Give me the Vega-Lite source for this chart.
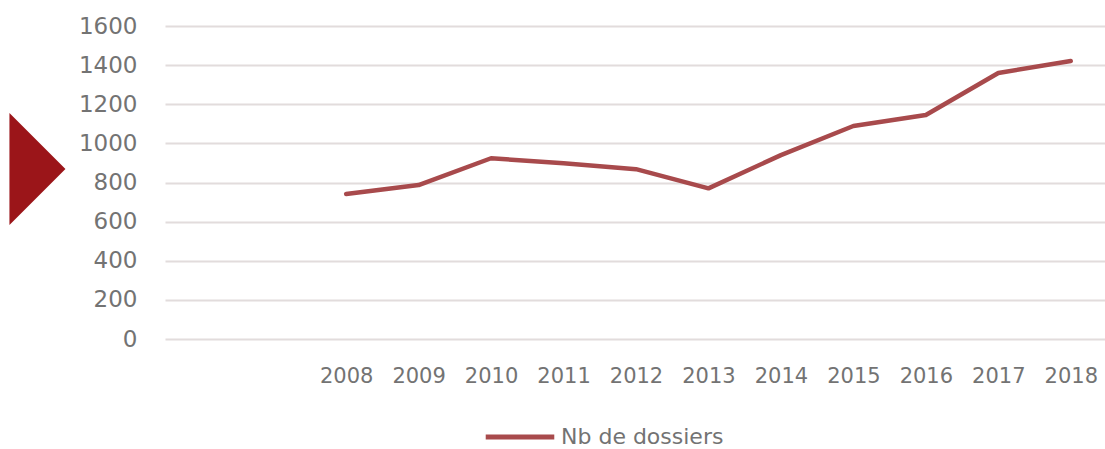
{
  "$schema": "https://vega.github.io/schema/vega-lite/v6.json",
  "width": 942,
  "height": 313,
  "autosize": {"type": "none"},
  "padding": {"left": 165, "top": 26, "right": 0, "bottom": 110},
  "background": "white",
  "config": {
    "view": {"stroke": null},
    "font": "DejaVu Sans"
  },
  "datasets": {
    "series": [
      {"year": 2008, "value": 741, "serie": "Nb de dossiers"},
      {"year": 2009, "value": 787, "serie": "Nb de dossiers"},
      {"year": 2010, "value": 924, "serie": "Nb de dossiers"},
      {"year": 2011, "value": 898, "serie": "Nb de dossiers"},
      {"year": 2012, "value": 868, "serie": "Nb de dossiers"},
      {"year": 2013, "value": 770, "serie": "Nb de dossiers"},
      {"year": 2014, "value": 940, "serie": "Nb de dossiers"},
      {"year": 2015, "value": 1089, "serie": "Nb de dossiers"},
      {"year": 2016, "value": 1145, "serie": "Nb de dossiers"},
      {"year": 2017, "value": 1360, "serie": "Nb de dossiers"},
      {"year": 2018, "value": 1421, "serie": "Nb de dossiers"}
    ],
    "marker": [
      {"year": 2003.74, "value": 869}
    ]
  },
  "encoding": {
    "x": {
      "field": "year",
      "type": "quantitative",
      "scale": {"domain": [2005.5, 2018.5], "nice": false, "zero": false},
      "axis": {
        "title": null,
        "values": [2008, 2009, 2010, 2011, 2012, 2013, 2014, 2015, 2016, 2017, 2018],
        "format": "d",
        "grid": false,
        "domain": false,
        "ticks": false,
        "labelFont": "DejaVu Sans",
        "labelFontSize": 21,
        "labelColor": "#737373",
        "labelPadding": 26,
        "labelFlush": false,
        "labelOverlap": false
      }
    },
    "y": {
      "field": "value",
      "type": "quantitative",
      "scale": {"domain": [0, 1600], "nice": false},
      "axis": {
        "title": null,
        "values": [0, 200, 400, 600, 800, 1000, 1200, 1400, 1600],
        "format": "d",
        "grid": true,
        "gridColor": "#e2dcdc",
        "gridWidth": 2,
        "domain": false,
        "ticks": false,
        "labelFont": "DejaVu Sans",
        "labelFontSize": 23,
        "labelColor": "#737373",
        "labelPadding": 28,
        "labelOverlap": false,
        "labelFlush": false
      }
    }
  },
  "layer": [
    {
      "data": {"name": "marker"},
      "mark": {
        "type": "point",
        "shape": "M-0.5,-1L0.5,0L-0.5,1Z",
        "filled": true,
        "size": 12544,
        "color": "#9b1519",
        "opacity": 1,
        "strokeWidth": 0
      }
    },
    {
      "data": {"name": "series"},
      "mark": {"type": "line", "strokeWidth": 4.5, "strokeJoin": "round", "strokeCap": "round"},
      "encoding": {
        "color": {
          "field": "serie",
          "type": "nominal",
          "scale": {"range": ["#a84a4c"]},
          "legend": {
            "title": null,
            "orient": "none",
            "legendX": 318,
            "legendY": 374,
            "direction": "horizontal",
            "symbolType": "stroke",
            "symbolSize": 4700,
            "symbolStrokeWidth": 5,
            "labelFont": "DejaVu Sans",
            "labelFontSize": 22,
            "labelColor": "#737373",
            "labelOffset": 4,
            "labelLimit": 400
          }
        }
      }
    }
  ]
}
